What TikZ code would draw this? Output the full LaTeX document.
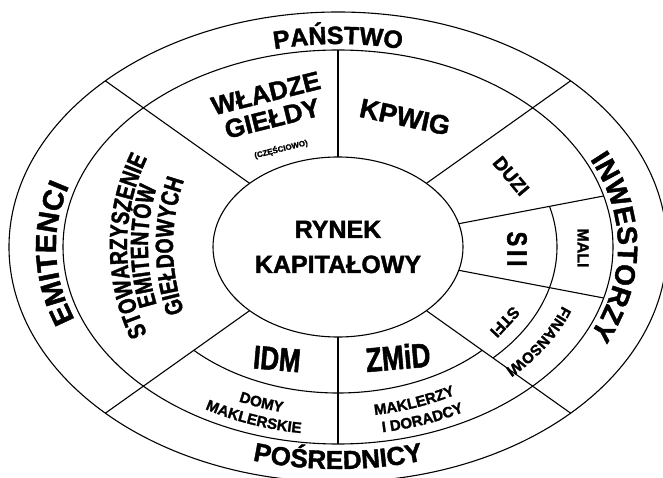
\documentclass[tikz,border=0pt]{standalone}
\usepackage{fontspec}
\setmainfont{Liberation Sans}[BoldFeatures={FakeBold=1.5}]
\newfontfamily\waskifont{Liberation Sans}[FakeStretch=0.78, BoldFeatures={FakeBold=1.5}]
\usetikzlibrary{calc,shapes.geometric,decorations.text}
\tikzset{every picture/.style={line width=1.1pt}}
\newcommand{\rozmiar}[1]{\fontsize{#1}{#1}\selectfont\bfseries}
\tikzset{
  napis/.style={inner sep=0pt, font=\rozmiar{#1}},
  waski/.style={inner sep=0pt, font=\waskifont\rozmiar{#1}},
  luk/.style={decorate, decoration={text along path, text align=center, text={#1}}}
}

\begin{document}
\begin{tikzpicture}[x=1pt,y=1pt]
    \useasboundingbox (0,0) rectangle (663,477);
    \coordinate (C) at (338,230);

    % 绘制椭圆环
    \draw (C) ellipse [x radius=329, y radius=235];
    \draw (C) ellipse [x radius=275, y radius=197];
    \node[draw, ellipse, minimum width=250pt, minimum height=180pt, inner sep=0pt,
          align=center, font=\fontsize{25}{35}\selectfont\bfseries] (rynek) at (C) {RYNEK\\KAPITAŁOWY};

    % 绘制分隔线
    \draw ($(C)+(45:125 and 90)$) -- ($(C)+(45:329 and 235)$);
    \draw ($(C)+(135:125 and 90)$) -- ($(C)+(135:329 and 235)$);
    \draw ($(C)+(225:125 and 90)$) -- ($(C)+(225:329 and 235)$);
    \draw ($(C)+(315:125 and 90)$) -- ($(C)+(315:329 and 235)$);
    \draw ($(C)+(90:125 and 90)$) -- ($(C)+(90:275 and 197)$);
    \draw ($(C)+(270:125 and 90)$) -- ($(C)+(270:275 and 197)$);
    \draw ($(C)+(15:125 and 90)$) -- ($(C)+(15:275 and 197)$);
    \draw ($(C)+(-15:125 and 90)$) -- ($(C)+(-15:275 and 197)$);
    \draw ($(C)+(225:204 and 146)$) arc [start angle=225, end angle=315, x radius=204, y radius=146];
    \draw ($(C)+(-45:219 and 157)$) arc [start angle=-45, end angle=15, x radius=219, y radius=157];

    % 外圈文字
    \path[luk={|\rozmiar{25}|PAŃSTWO}] ($(C)+(120:283 and 203)$) arc [start angle=120, end angle=60, x radius=283, y radius=203];
    \path[luk={|\rozmiar{29}|EMITENCI}] ($(C)+(227:282 and 202)$) arc [start angle=227, end angle=136, x radius=282, y radius=202];
    \path[luk={|\rozmiar{28}|INWESTORZY}] ($(C)+(50:280 and 201)$) arc [start angle=50, end angle=-50, x radius=280, y radius=201];
    \path[luk={|\rozmiar{26}|POŚREDNICY}] ($(C)+(240:310 and 222)$) arc [start angle=240, end angle=300, x radius=310, y radius=222];

    % 左侧三行
    \path[luk={|\waskifont\rozmiar{25}|STOWARZYSZENIE}] (327,231) ++(220:200) arc [start angle=220, end angle=140, radius=200];
    \path[luk={|\waskifont\rozmiar{25}|EMITENTÓW}] (348,231) ++(220:200) arc [start angle=220, end angle=140, radius=200];
    \path[luk={|\waskifont\rozmiar{25}|GIEŁDOWYCH}] (373,231) ++(220:200) arc [start angle=220, end angle=140, radius=200];

    % 上方
    \node[napis=26, rotate=14, align=center] (wladze) at (269,371) {WŁADZE\\GIEŁDY};
    \node[napis=8, rotate=14] (czesciowo) at (281,328) {(CZĘŚCIOWO)};
    \node[napis=27, rotate=-12] (kpwig) at (405,360) {KPWIG};

    % 右侧
    \node[napis=19, rotate=-50] (duzi) at (511,301) {DUZI};
    \node[waski=28, rotate=-90] (sii) at (517,228) {S\kern4pt I\kern4pt I};
    \node[napis=16, rotate=-90] (mali) at (583,229) {MALI};
    \node[napis=16, rotate=-133] (stfi) at (505,155) {STFI};
    \path[luk={|\rozmiar{15}|FINANSOWI}] ($(C)+(-6:239 and 171)$) arc [start angle=-6, end angle=-57, x radius=239, y radius=171];

    % 下方
    \node[waski=33, rotate=-5] (idm) at (277,118) {IDM};
    \node[waski=34, rotate=5] (zmid) at (398,120) {ZMiD};
    \path[luk={|\rozmiar{15}|DOMY}] ($(C)+(225:237 and 170)$) arc [start angle=225, end angle=275, x radius=237, y radius=170];
    \path[luk={|\rozmiar{15}|MAKLERSKIE}] ($(C)+(225:262 and 188)$) arc [start angle=225, end angle=275, x radius=262, y radius=188];
    \path[luk={|\rozmiar{15}|MAKLERZY}] ($(C)+(-95:237 and 170)$) arc [start angle=-95, end angle=-45, x radius=237, y radius=170];
    \path[luk={|\rozmiar{15}|I DORADCY}] ($(C)+(-95:262 and 188)$) arc [start angle=-95, end angle=-45, x radius=262, y radius=188];
\end{tikzpicture}
\end{document}
